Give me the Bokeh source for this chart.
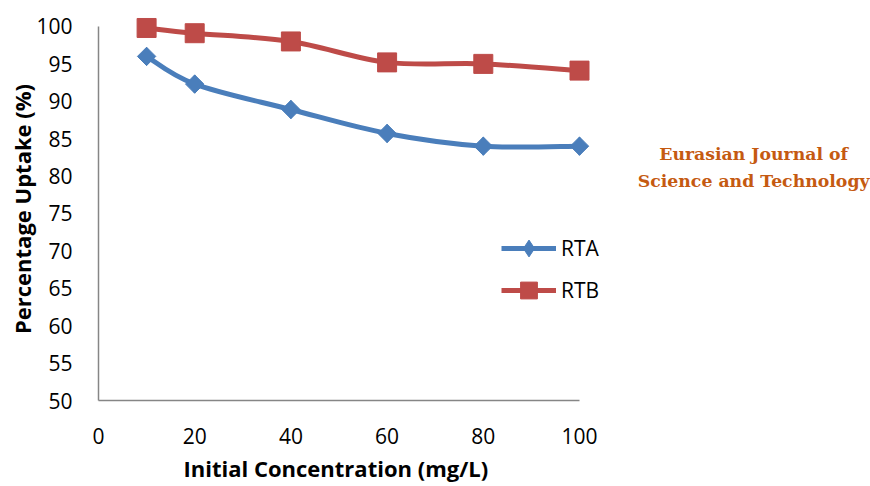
import numpy as np
from bokeh.plotting import figure
from bokeh.models import Range1d, FixedTicker, Legend, LegendItem, Label, Title
from bokeh.embed import file_html
from bokeh.resources import INLINE

# ---- data ----
conc = [10, 20, 40, 60, 80, 100]
rta = [96.0, 92.3, 88.9, 85.7, 84.0, 84.0]
rtb = [99.8, 99.1, 98.0, 95.2, 95.0, 94.1]
x_ticks = [0, 20, 40, 60, 80, 100]
y_ticks = [50, 55, 60, 65, 70, 75, 80, 85, 90, 95, 100]
series_names = ["RTA", "RTB"]
colors = ["#4A7EBB", "#BE4B48"]

FONT = "Open Sans"

# frame spans to the right edge so the side note can sit in data space
X_END = 100 * (870 - 98) / (579 - 98)

p = figure(width=870, height=486, output_backend="svg", toolbar_location=None,
           x_range=Range1d(0, X_END), y_range=Range1d(50, 101.2),
           min_border_left=98, min_border_right=0, min_border_top=17,
           min_border_bottom=85)
p.outline_line_color = None
p.grid.grid_line_color = None
p.background_fill_color = "white"
p.border_fill_color = "white"

for ax, ticks in ((p.xaxis, x_ticks), (p.yaxis, y_ticks)):
    ax.ticker = FixedTicker(ticks=ticks)
    ax.major_tick_line_color = None
    ax.minor_tick_line_color = None
    ax.major_tick_out = 0
    ax.major_tick_in = 0
    ax.minor_tick_out = 0
    ax.axis_line_color = "#868686"
    ax.axis_line_width = 1.5
    ax.major_label_text_font = FONT
    ax.major_label_text_font_size = "21px"
    ax.major_label_text_color = "black"
    ax.axis_label_text_font = FONT
    ax.axis_label_text_font_style = "bold"
    ax.axis_label_text_font_size = "22px"
    ax.axis_label_text_color = "black"

p.xaxis.bounds = (0, 100)
p.yaxis.bounds = (50, 100)
p.yaxis.axis_label = "Percentage Uptake (%)"
p.xaxis.major_label_standoff = 27
p.yaxis.major_label_standoff = 26
p.yaxis.axis_label_standoff = -4

xtitle = Title(text="Initial Concentration (mg/L)", align="left", offset=85,
               text_font=FONT, text_font_style="bold", text_font_size="22px",
               text_color="black", standoff=8, text_line_height=0.7)
p.add_layout(xtitle, "below")


def smooth_segments(xs, ys):
    xs = np.asarray(xs, float)
    ys = np.asarray(ys, float)
    n = len(xs)
    px = np.concatenate([[xs[0]], xs, [xs[-1]]])
    py = np.concatenate([[ys[0]], ys, [ys[-1]]])
    seg = dict(x0=[], y0=[], x1=[], y1=[], cx0=[], cy0=[], cx1=[], cy1=[])
    for i in range(n - 1):
        a, b, c, d = i, i + 1, i + 2, i + 3
        seg["x0"].append(px[b]); seg["y0"].append(py[b])
        seg["x1"].append(px[c]); seg["y1"].append(py[c])
        seg["cx0"].append(px[b] + (px[c] - px[a]) / 6)
        seg["cy0"].append(py[b] + (py[c] - py[a]) / 6)
        seg["cx1"].append(px[c] - (px[d] - px[b]) / 6)
        seg["cy1"].append(py[c] - (py[d] - py[b]) / 6)
    return seg


items = []
for name, ys, col, mk in ((series_names[0], rta, colors[0], "diamond"),
                          (series_names[1], rtb, colors[1], "square")):
    s = smooth_segments(conc, ys)
    br = p.bezier(x0=s["x0"], y0=s["y0"], x1=s["x1"], y1=s["y1"],
                  cx0=s["cx0"], cy0=s["cy0"], cx1=s["cx1"], cy1=s["cy1"],
                  line_color=col, line_width=5)
    if mk == "diamond":
        sr = p.scatter(conc, ys, marker="diamond", size=18,
                       fill_color=col, line_color=col)
        p.scatter(conc, ys, marker="square", angle=np.pi / 4, size=13,
                  fill_color=col, line_color=col)
    else:
        sr = p.scatter(conc, ys, marker="square", size=19,
                       fill_color=col, line_color=col)
    items.append(LegendItem(label=name, renderers=[br, sr]))

legend = Legend(items=items, location=(403, 89), orientation="vertical",
                glyph_width=55, glyph_height=42, spacing=0, padding=0, margin=0,
                label_standoff=5, label_text_font=FONT, label_text_font_size="21px",
                label_text_color="black", border_line_alpha=0,
                background_fill_alpha=0, label_text_baseline="middle")
p.add_layout(legend)

for txt, yy in (("Eurasian Journal of", 82.9), ("Science and Technology", 79.4)):
    p.add_layout(Label(x=136.2, y=yy, text=txt, text_align="center",
                       text_baseline="middle", text_font="DejaVu Serif",
                       text_font_style="bold", text_font_size="17.3px",
                       text_color="#C55A11"))

open("out.html", "w").write(file_html(p, INLINE))
